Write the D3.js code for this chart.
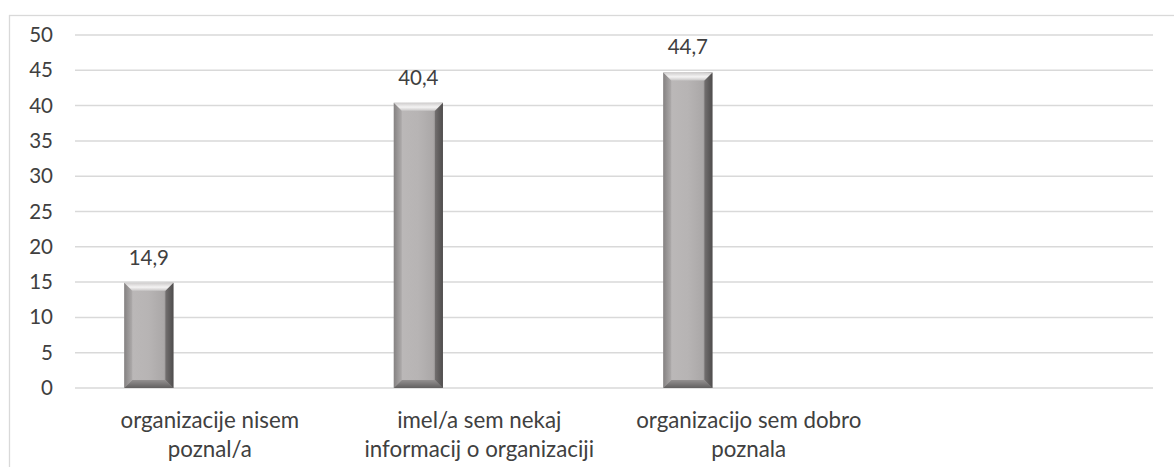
<!DOCTYPE html>
<html>
<head>
<meta charset="utf-8">
<script src="https://cdn.jsdelivr.net/npm/d3@7"></script>
<style>
  html, body { margin: 0; padding: 0; background: #fff; }
  svg { display: block; }
</style>
</head>
<body>
<svg id="chart" width="1174" height="467"></svg>
<script>
const categories = [
  ["organizacije nisem", "poznal/a"],
  ["imel/a sem nekaj", "informacij o organizaciji"],
  ["organizacijo sem dobro", "poznala"],
  [""]
];
const values = [14.9, 40.4, 44.7, null];
const valueLabels = ["14,9", "40,4", "44,7", ""];
const yTicks = [0, 5, 10, 15, 20, 25, 30, 35, 40, 45, 50];

(function () {
const svg = d3.select("#chart");
const FONT = "Lato, 'Open Sans', sans-serif";
const FS = 20.5;
const FSC = 22.3;
const TXT = "#404040";

// outer frame (cropped at right and bottom)
svg.append("rect")
  .attr("x", 9.5).attr("y", 15.5).attr("width", 1200).attr("height", 500)
  .attr("fill", "none").attr("stroke", "#d9d9d9").attr("stroke-width", 1.3);

const pLeft = 75, pRight = 1153, pTop = 35, pBottom = 388;
const x = d3.scaleBand().domain(d3.range(categories.length)).range([pLeft, pRight]).padding(0);
const y = d3.scaleLinear().domain([0, 50]).range([pBottom, pTop]);

// gridlines
svg.append("g").selectAll("line").data(yTicks).join("line")
  .attr("x1", pLeft).attr("x2", pRight)
  .attr("y1", d => y(d)).attr("y2", d => y(d))
  .attr("stroke", "#d9d9d9").attr("stroke-width", 1.5);

// y axis labels
const yAxis = d3.axisLeft(y).tickValues(yTicks).tickSize(0).tickPadding(0);
const ga = svg.append("g").attr("transform", `translate(53,0)`).call(yAxis);
ga.select(".domain").remove();
ga.selectAll("text").attr("font-family", FONT).attr("font-size", FS).attr("fill", TXT);

// gradients
const defs = svg.append("defs");
const gBody = defs.append("linearGradient").attr("id", "body").attr("x1", 0).attr("x2", 1).attr("y1", 0).attr("y2", 0);
[[0, "#a3a0a0"], [0.15, "#bbb8b8"], [0.5, "#b7b4b4"], [0.8, "#aba8a8"], [0.9, "#8d8a8a"], [1, "#6a6767"]]
  .forEach(([o, c]) => gBody.append("stop").attr("offset", o).attr("stop-color", c));
const gTop = defs.append("linearGradient").attr("id", "topb").attr("x1", 0).attr("x2", 0).attr("y1", 0).attr("y2", 1);
[[0, "#cfcdcd"], [0.55, "#f4f3f3"], [1, "#c8c6c6"]]
  .forEach(([o, c]) => gTop.append("stop").attr("offset", o).attr("stop-color", c));
const gLeft = defs.append("linearGradient").attr("id", "leftb").attr("x1", 0).attr("x2", 1).attr("y1", 0).attr("y2", 0);
[[0, "#858282"], [1, "#aeabab"]]
  .forEach(([o, c]) => gLeft.append("stop").attr("offset", o).attr("stop-color", c));
const gRight = defs.append("linearGradient").attr("id", "rightb").attr("x1", 0).attr("x2", 1).attr("y1", 0).attr("y2", 0);
[[0, "#737070"], [1, "#4f4d4d"]]
  .forEach(([o, c]) => gRight.append("stop").attr("offset", o).attr("stop-color", c));
const gBot = defs.append("linearGradient").attr("id", "botb").attr("x1", 0).attr("x2", 0).attr("y1", 0).attr("y2", 1);
[[0, "#939090"], [1, "#626060"]]
  .forEach(([o, c]) => gBot.append("stop").attr("offset", o).attr("stop-color", c));

const bars = categories.map((c, i) => ({ i, v: values[i], lab: valueLabels[i] })).filter(d => d.v != null);
const bw = x.bandwidth() * 0.182;
const bx = d => x(d.i) + x.bandwidth() * 0.183;
const B = 8;
const poly = pts => pts.map(p => p.join(",")).join(" ");

const gb = svg.append("g");
bars.forEach(d => {
  const x0 = bx(d), x1 = x0 + bw, y0 = y(d.v), y1 = y(0);
  const g = gb.append("g");
  g.append("rect").attr("x", x0).attr("y", y0).attr("width", bw).attr("height", y1 - y0).attr("fill", "url(#body)");
  g.append("polygon").attr("points", poly([[x0, y0], [x0 + B, y0 + B], [x0 + B, y1 - B], [x0, y1]])).attr("fill", "url(#leftb)");
  g.append("polygon").attr("points", poly([[x1, y0], [x1 - B, y0 + B], [x1 - B, y1 - B], [x1, y1]])).attr("fill", "url(#rightb)");
  g.append("polygon").attr("points", poly([[x0, y0], [x1, y0], [x1 - B, y0 + B], [x0 + B, y0 + B]])).attr("fill", "url(#topb)");
  g.append("polygon").attr("points", poly([[x0, y1], [x1, y1], [x1 - B, y1 - B], [x0 + B, y1 - B]])).attr("fill", "url(#botb)");
  svg.append("text").attr("x", x0 + bw / 2).attr("y", y0 - 18)
    .attr("text-anchor", "middle").attr("font-family", FONT).attr("font-size", FS).attr("fill", TXT)
    .text(d.lab);
});

// category labels
const gc = svg.append("g");
categories.forEach((lines, i) => {
  const t = gc.append("text").attr("text-anchor", "middle").attr("font-family", FONT)
    .attr("font-size", FSC).attr("fill", TXT);
  lines.forEach((ln, k) => {
    t.append("tspan").attr("x", x(i) + x.bandwidth() / 2).attr("y", 428 + k * 29).text(ln);
  });
});
})();
</script>
</body>
</html>
